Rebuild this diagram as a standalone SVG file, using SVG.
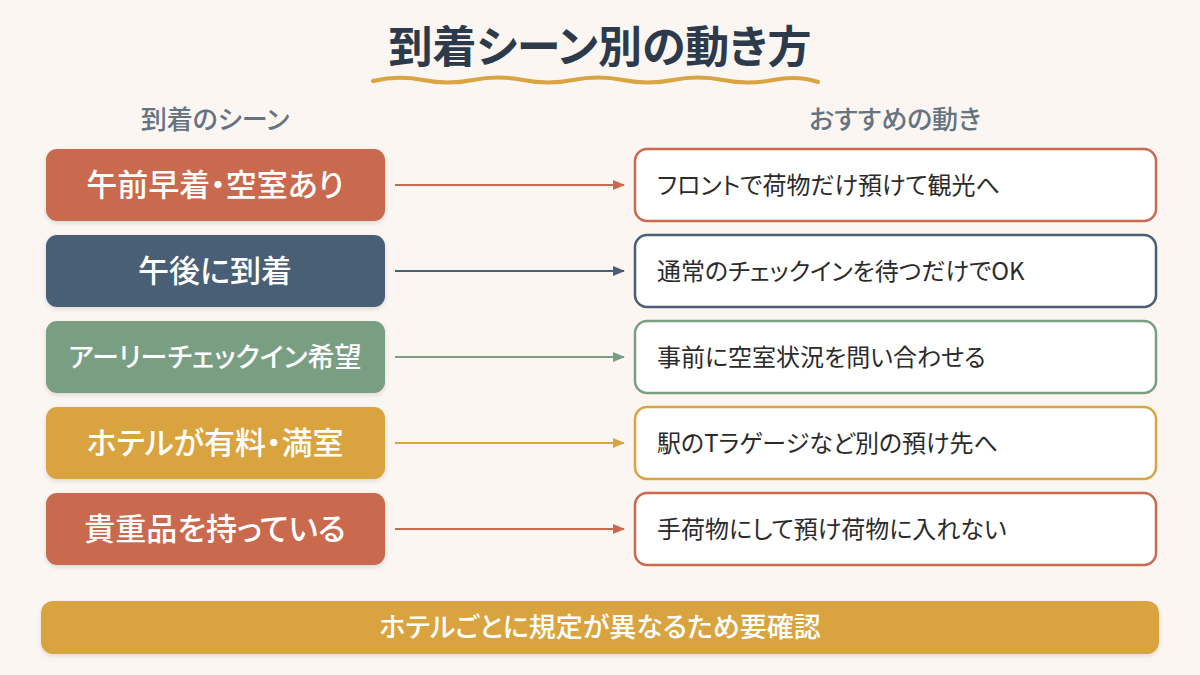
<svg xmlns="http://www.w3.org/2000/svg" width="1200" height="675" viewBox="0 0 1200 675">
<defs>
<style>
.t{font-family:"Noto Sans CJK JP","Noto Sans",sans-serif;font-feature-settings:"palt"}
.title{font-size:44px;font-weight:700;fill:#2C3A4B}
.hdr{font-size:26px;font-weight:500;fill:#667380}
.lt{font-size:31px;font-weight:500;fill:#fff}
.rt{font-size:24px;font-weight:400;fill:#2b2b2b}
.rb{fill:#fff;stroke-width:2.5}
.ft{font-size:27px;font-weight:500;fill:#fff}
</style>
<filter id="sh" x="-10%" y="-20%" width="120%" height="150%">
<feDropShadow dx="0" dy="2" stdDeviation="2" flood-color="#000" flood-opacity="0.12"/>
</filter>
<marker id="a1" markerWidth="12" markerHeight="10" refX="11" refY="5" orient="auto" markerUnits="userSpaceOnUse"><path d="M0,0 L12,5 L0,10 z" fill="#C96A50"/></marker>
<marker id="a2" markerWidth="12" markerHeight="10" refX="11" refY="5" orient="auto" markerUnits="userSpaceOnUse"><path d="M0,0 L12,5 L0,10 z" fill="#4A5E74"/></marker>
<marker id="a3" markerWidth="12" markerHeight="10" refX="11" refY="5" orient="auto" markerUnits="userSpaceOnUse"><path d="M0,0 L12,5 L0,10 z" fill="#7A9E82"/></marker>
<marker id="a4" markerWidth="12" markerHeight="10" refX="11" refY="5" orient="auto" markerUnits="userSpaceOnUse"><path d="M0,0 L12,5 L0,10 z" fill="#D9A441"/></marker>
</defs>
<rect width="1200" height="675" fill="#FBF6F2"/>
<g id="title">
<text class="t title" x="600" y="63" text-anchor="middle">到着シーン別の動き方</text>
<path d="M373,81 Q398,75 423,80 T473,80 T523,80 T573,80 T623,80 T673,80 T723,80 T773,80 T818,82" fill="none" stroke="#D9A441" stroke-width="4" stroke-linecap="round"/>
</g>
<g id="headers">
<text class="t hdr" x="215" y="129" text-anchor="middle">到着のシーン</text>
<text class="t hdr" x="895" y="129" text-anchor="middle">おすすめの動き</text>
</g>
<g id="scene1"><rect x="46" y="149" width="339" height="72" rx="11" fill="#C96A50" filter="url(#sh)"/><text class="t lt" x="215" y="196" text-anchor="middle">午前早着・空室あり</text></g>
<g id="scene2"><rect x="46" y="235" width="339" height="72" rx="11" fill="#4A5E74" filter="url(#sh)"/><text class="t lt" x="215" y="282" text-anchor="middle">午後に到着</text></g>
<g id="scene3"><rect x="46" y="321" width="339" height="72" rx="11" fill="#7A9E82" filter="url(#sh)"/><text class="t lt" x="215" y="367" text-anchor="middle" style="font-size:27px">アーリーチェックイン希望</text></g>
<g id="scene4"><rect x="46" y="407" width="339" height="72" rx="11" fill="#D9A441" filter="url(#sh)"/><text class="t lt" x="215" y="454" text-anchor="middle">ホテルが有料・満室</text></g>
<g id="scene5"><rect x="46" y="493" width="339" height="72" rx="11" fill="#C96A50" filter="url(#sh)"/><text class="t lt" x="215" y="540" text-anchor="middle">貴重品を持っている</text></g>
<g id="action1"><rect class="rb" x="635" y="149" width="521" height="72" rx="12" stroke="#C96A50"/><text class="t rt" x="657" y="194">フロントで荷物だけ預けて観光へ</text></g>
<g id="action2"><rect class="rb" x="635" y="235" width="521" height="72" rx="12" stroke="#4A5E74"/><text class="t rt" x="657" y="280">通常のチェックインを待つだけでOK</text></g>
<g id="action3"><rect class="rb" x="635" y="321" width="521" height="72" rx="12" stroke="#7A9E82"/><text class="t rt" x="657" y="366">事前に空室状況を問い合わせる</text></g>
<g id="action4"><rect class="rb" x="635" y="407" width="521" height="72" rx="12" stroke="#D9A441"/><text class="t rt" x="657" y="452">駅のTラゲージなど別の預け先へ</text></g>
<g id="action5"><rect class="rb" x="635" y="493" width="521" height="72" rx="12" stroke="#C96A50"/><text class="t rt" x="657" y="538">手荷物にして預け荷物に入れない</text></g>
<g id="connectors" stroke-width="2" fill="none">
<line x1="395" y1="185" x2="624" y2="185" stroke="#C96A50" marker-end="url(#a1)"/>
<line x1="395" y1="271" x2="624" y2="271" stroke="#4A5E74" marker-end="url(#a2)"/>
<line x1="395" y1="357" x2="624" y2="357" stroke="#7A9E82" marker-end="url(#a3)"/>
<line x1="395" y1="443" x2="624" y2="443" stroke="#D9A441" marker-end="url(#a4)"/>
<line x1="395" y1="529" x2="624" y2="529" stroke="#C96A50" marker-end="url(#a1)"/>
</g>
<g id="footer"><rect x="41" y="601" width="1118" height="53" rx="12" fill="#D9A441" filter="url(#sh)"/><text class="t ft" x="600" y="637" text-anchor="middle">ホテルごとに規定が異なるため要確認</text></g>
</svg>
